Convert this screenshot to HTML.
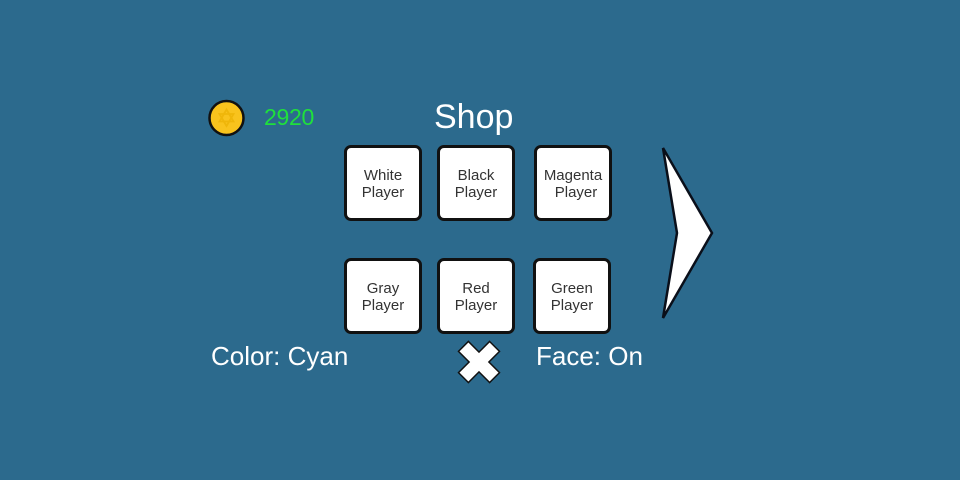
<!DOCTYPE html>
<html><head><meta charset="utf-8"><style>
html,body{margin:0;padding:0;}
body{width:960px;height:480px;background:#2c6a8d;position:relative;overflow:hidden;font-family:"Liberation Sans",Arial,sans-serif;}
.t{position:absolute;white-space:nowrap;line-height:1;}
.box{position:absolute;width:72px;height:70px;background:#fff;border:3px solid #111;border-radius:7px;box-sizing:content-box;}
.bl{position:absolute;left:0;width:100%;text-align:center;font-size:15px;color:#333;line-height:1;white-space:nowrap;}
</style></head><body>
<svg width="960" height="480" style="position:absolute;left:0;top:0">
  <circle cx="226.5" cy="118" r="17" fill="#f9c31d" stroke="#111" stroke-width="2.5"/>
  <polygon points="226.5,109.5 233.5,121.5 219.5,121.5" fill="none" stroke="#efb60a" stroke-width="1.8"/>
  <polygon points="226.5,126 233.5,114 219.5,114" fill="none" stroke="#efb60a" stroke-width="1.8"/>
  <polygon points="663,148 712,233 663,318 677,233" fill="#fff" stroke="#0a0f1a" stroke-width="2.5" stroke-linejoin="miter"/>
  <g transform="translate(479,362) rotate(45)">
    <path d="M-7,-22 H7 V-7 H22 V7 H7 V22 H-7 V7 H-22 V-7 H-7 Z" fill="#fff" stroke="#111" stroke-width="1.5"/>
  </g>
</svg>
<div class="t" style="left:264px;top:106px;font-size:23px;color:#1fe03c;letter-spacing:-0.3px">2920</div>
<div class="t" style="left:434px;top:100px;font-size:34px;color:#fff">Shop</div>

<div class="box" style="left:344px;top:145px"><div class="bl" style="top:20px">White</div><div class="bl" style="top:37px">Player</div></div>
<div class="box" style="left:437px;top:145px"><div class="bl" style="top:20px">Black</div><div class="bl" style="top:37px">Player</div></div>
<div class="box" style="left:534px;top:145px"><div class="bl" style="top:20px">Magenta</div><div class="bl" style="top:37px;left:3px">Player</div></div>

<div class="box" style="left:344px;top:258px"><div class="bl" style="top:20px">Gray</div><div class="bl" style="top:37px">Player</div></div>
<div class="box" style="left:437px;top:258px"><div class="bl" style="top:20px">Red</div><div class="bl" style="top:37px">Player</div></div>
<div class="box" style="left:533px;top:258px"><div class="bl" style="top:20px">Green</div><div class="bl" style="top:37px">Player</div></div>

<div class="t" style="left:211px;top:343px;font-size:26px;color:#fff">Color: Cyan</div>
<div class="t" style="left:536px;top:343px;font-size:26px;color:#fff">Face: On</div>
</body></html>
